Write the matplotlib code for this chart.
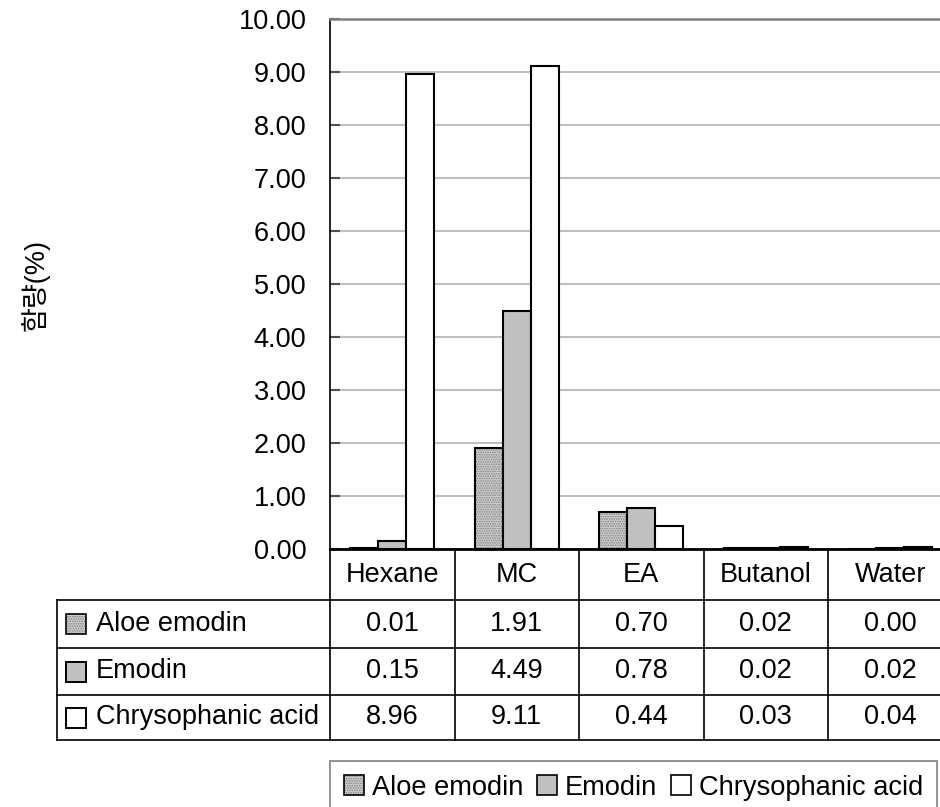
import numpy as np
import matplotlib
matplotlib.use('Agg')
import matplotlib.pyplot as plt
from matplotlib.patches import Rectangle
from matplotlib.legend_handler import HandlerTuple
from matplotlib.ticker import FormatStrFormatter

plt.rcParams['font.family'] = ['Liberation Sans', 'Noto Sans CJK KR']
plt.rcParams['hatch.linewidth'] = 0.8

categories = ['Hexane', 'MC', 'EA', 'Butanol', 'Water']
series_names = ['Aloe emodin', 'Emodin', 'Chrysophanic acid']
aloe_emodin = [0.01, 1.91, 0.70, 0.02, 0.00]
emodin = [0.15, 4.49, 0.78, 0.02, 0.02]
chrysophanic_acid = [8.96, 9.11, 0.44, 0.03, 0.04]
y_label = '함량(%)'

W, H = 940, 807
FS = 19.5
fig = plt.figure(figsize=(W / 100, H / 100), dpi=100)
ax = fig.add_axes([330 / W, (H - 549) / H, 622.5 / W, 530 / H])

x = np.arange(len(categories))
w = 0.225
edge_lw = 1.5
aloe_face, aloe_hatch = '#d0d0d0', '#7c7c7c'

# aloe emodin: dotted fill drawn as two layers (hatch + black edge)
ax.bar(x - w, aloe_emodin, w, color=aloe_face, hatch='.......', edgecolor=aloe_hatch, linewidth=0, zorder=3)
ax.bar(x - w, aloe_emodin, w, fill=False, edgecolor='black', linewidth=edge_lw, zorder=4)
ax.bar(x, emodin, w, color='#c0c0c0', edgecolor='black', linewidth=edge_lw, zorder=4)
ax.bar(x + w, chrysophanic_acid, w, color='white', edgecolor='black', linewidth=edge_lw, zorder=4)

ax.set_xlim(-0.5, len(categories) - 0.5)
ax.set_ylim(0, 10)
ax.set_yticks(np.arange(0, 11, 1))
ax.yaxis.set_major_formatter(FormatStrFormatter('%.2f'))
ax.set_xticks([])
ax.yaxis.grid(True, color='#c0c0c0', linewidth=1.5, zorder=0)
ax.set_axisbelow(True)
ax.tick_params(axis='y', direction='in', length=7, width=1.5, color='#505050',
               labelsize=FS, pad=17)

ax.spines['right'].set_visible(False)
ax.spines['top'].set_color('#808080')
ax.spines['top'].set_linewidth(1.8)
ax.spines['left'].set_color('black')
ax.spines['left'].set_linewidth(1.2)
ax.spines['bottom'].set_color('black')
ax.spines['bottom'].set_linewidth(2)

fig.text(35 / W, 1 - 285 / H, y_label, rotation=90, ha='center', va='center', fontsize=FS)

# data table under the axes
ah = 530.0
row_edges = [0, -51 / ah, -99 / ah, -146 / ah, -191 / ah]
label_left = (57 - 330) / 622.5
xt = ax.get_xaxis_transform()
line_kw = dict(color='black', linewidth=1.2, clip_on=False)

for c, name in enumerate(categories):
    ax.text(c, (row_edges[0] + row_edges[1]) / 2, name, transform=xt,
            ha='center', va='center', fontsize=FS)

table_rows = [aloe_emodin, emodin, chrysophanic_acid]
for r, vals in enumerate(table_rows):
    yc = (row_edges[r + 1] + row_edges[r + 2]) / 2
    for c, v in enumerate(vals):
        ax.text(c, yc, f'{v:.2f}', transform=xt, ha='center', va='center', fontsize=FS)

for c in range(len(categories) + 1):
    ax.plot([c - 0.5, c - 0.5], [0, row_edges[-1]], transform=xt, **line_kw)
for yb in row_edges[1:]:
    ax.plot([label_left, 1.05], [yb, yb], transform=ax.transAxes, **line_kw)
ax.plot([label_left, label_left], [row_edges[1], row_edges[-1]], transform=ax.transAxes, **line_kw)

# row label keys inside the table
sq_w = 20 / 622.5
sq_h = 20 / ah
key_styles = [dict(facecolor=aloe_face, hatch='.......', edgecolor=aloe_hatch),
              dict(facecolor='#c0c0c0', edgecolor='black'),
              dict(facecolor='white', edgecolor='black')]
for r, name in enumerate(series_names):
    yc = (row_edges[r + 1] + row_edges[r + 2]) / 2
    x0 = (66 - 330) / 622.5
    ax.add_patch(Rectangle((x0, yc - sq_h / 2), sq_w, sq_h, transform=ax.transAxes,
                           clip_on=False, linewidth=0 if r == 0 else 1.2, **key_styles[r]))
    ax.add_patch(Rectangle((x0, yc - sq_h / 2), sq_w, sq_h, transform=ax.transAxes,
                           clip_on=False, fill=False, edgecolor='black', linewidth=1.2))
    ax.text((96 - 330) / 622.5, yc, name, transform=ax.transAxes, ha='left', va='center',
            fontsize=FS)

# legend at the bottom
h_aloe = (Rectangle((0, 0), 1, 1, facecolor=aloe_face, hatch='.......', edgecolor=aloe_hatch, linewidth=0),
          Rectangle((0, 0), 1, 1, fill=False, edgecolor='black', linewidth=1.2))
h_emo = Rectangle((0, 0), 1, 1, facecolor='#c0c0c0', edgecolor='black', linewidth=1.2)
h_chr = Rectangle((0, 0), 1, 1, facecolor='white', edgecolor='black', linewidth=1.2)
leg = ax.legend([h_aloe, h_emo, h_chr], series_names, ncol=3, loc='upper left',
                bbox_to_anchor=(0, (549 - 761) / ah), borderaxespad=0, fontsize=19.6,
                handlelength=0.74, handleheight=0.74, handletextpad=0.3, columnspacing=0.5,
                borderpad=0.5, frameon=True, fancybox=False, framealpha=1,
                edgecolor='#808080', handler_map={tuple: HandlerTuple(ndivide=1, pad=0)})
leg.get_frame().set_linewidth(1.2)

fig.savefig('out.png', dpi=100)
